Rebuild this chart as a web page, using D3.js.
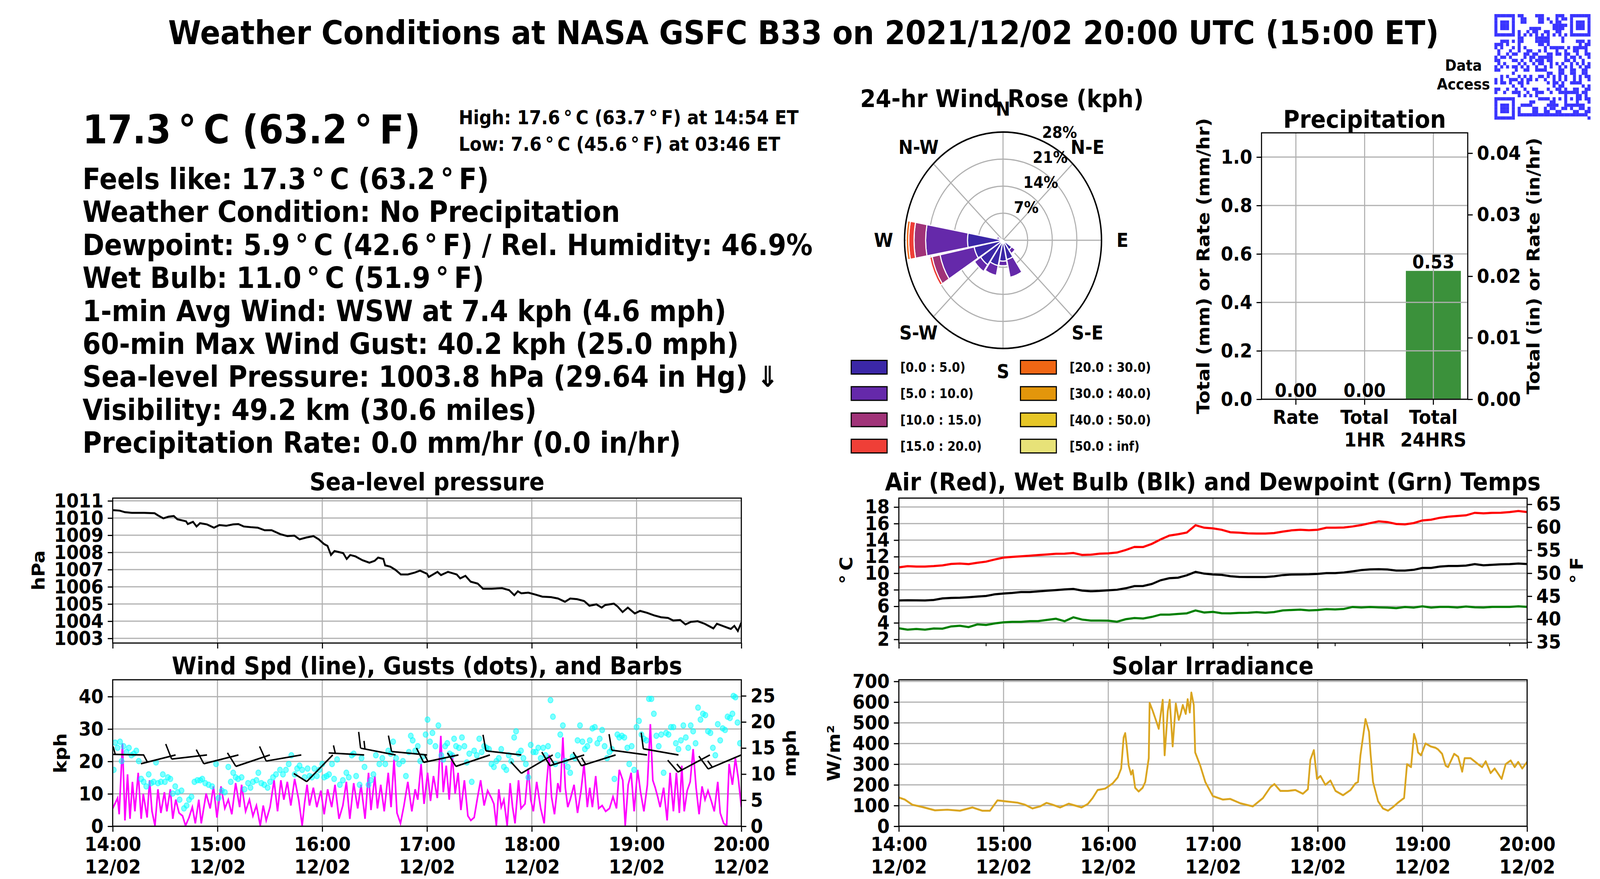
<!DOCTYPE html>
<html>
<head>
<meta charset="utf-8">
<title>Weather Conditions at NASA GSFC B33</title>
<script src="https://cdn.jsdelivr.net/npm/d3@7"></script>
<style>html,body{margin:0;padding:0;background:#fff;overflow:hidden}svg{display:block}</style>
</head>
<body>
<script>
// ---------------- data ----------------
const DEG = "\u2009°\u2009";
const titleText = "Weather Conditions at NASA GSFC B33 on 2021/12/02 20:00 UTC (15:00 ET)";
const bigTemp = `17.3${DEG}C (63.2${DEG}F)`;
const highLow = [`High: 17.6${DEG}C (63.7${DEG}F) at 14:54 ET`, `Low: 7.6${DEG}C (45.6${DEG}F) at 03:46 ET`];
const infoLines = [
  `Feels like: 17.3${DEG}C (63.2${DEG}F)`,
  "Weather Condition: No Precipitation",
  `Dewpoint: 5.9${DEG}C (42.6${DEG}F) / Rel. Humidity: 46.9%`,
  `Wet Bulb: 11.0${DEG}C (51.9${DEG}F)`,
  "1-min Avg Wind: WSW at 7.4 kph (4.6 mph)",
  "60-min Max Wind Gust: 40.2 kph (25.0 mph)",
  "Sea-level Pressure: 1003.8 hPa (29.64 in Hg) \u21D3",
  "Visibility: 49.2 km (30.6 miles)",
  "Precipitation Rate: 0.0 mm/hr (0.0 in/hr)"
];

// time axis (minutes after 14:00 ET)
const timeTicks = [0, 60, 120, 180, 240, 300, 360];
const timeTickLabels = ["14:00", "15:00", "16:00", "17:00", "18:00", "19:00", "20:00"];
const dateTickLabel = "12/02";
const tempMinorTicks = [50, 100, 150, 200, 250, 300, 350];

// sea-level pressure [minute, hPa]
const pressure = [[0,1010.46],[4,1010.43],[7,1010.34],[11,1010.30],[18,1010.30],[24,1010.28],[26,1010.15],[29,1009.98],[32,1010.08],[35,1010.12],[37,1009.93],[42,1009.81],[43,1009.65],[46,1009.78],[48,1009.51],[50,1009.70],[54,1009.63],[58,1009.44],[61,1009.59],[65,1009.55],[69,1009.63],[72,1009.65],[75,1009.51],[79,1009.47],[83,1009.44],[87,1009.29],[91,1009.29],[96,1009.06],[100,1008.95],[104,1008.98],[107,1008.76],[111,1008.87],[115,1008.95],[118,1008.76],[121,1008.49],[123,1008.38],[125,1007.85],[127,1008.08],[132,1007.96],[134,1007.62],[136,1007.85],[139,1007.77],[143,1007.55],[147,1007.40],[150,1007.51],[152,1007.70],[155,1007.62],[156,1007.25],[159,1007.17],[162,1006.98],[165,1006.72],[169,1006.72],[173,1006.83],[176,1006.94],[180,1006.76],[181,1006.57],[186,1006.87],[188,1006.68],[192,1006.87],[197,1006.72],[199,1006.49],[202,1006.64],[205,1006.30],[209,1006.19],[212,1005.89],[217,1005.89],[223,1005.92],[227,1005.81],[230,1005.51],[232,1005.74],[234,1005.62],[238,1005.66],[242,1005.55],[246,1005.43],[251,1005.40],[255,1005.32],[259,1005.13],[262,1005.32],[266,1005.28],[270,1005.17],[273,1004.90],[277,1004.98],[280,1004.79],[282,1004.94],[287,1005.02],[289,1004.87],[292,1004.53],[295,1004.79],[299,1004.45],[302,1004.60],[306,1004.49],[310,1004.34],[314,1004.23],[318,1004.19],[321,1004.04],[325,1004.07],[328,1003.81],[331,1003.96],[335,1004.00],[339,1003.85],[344,1003.58],[346,1003.85],[350,1003.70],[354,1003.55],[356,1003.73],[358,1003.43],[360,1003.92]];
const pressureTicks = [1003,1004,1005,1006,1007,1008,1009,1010,1011];

// temperatures (deg C) every 5 minutes
const tempMin = [0,5,10,15,20,25,30,35,40,45,50,55,60,65,70,75,80,85,90,95,100,105,110,115,120,125,130,135,140,145,150,155,160,165,170,175,180,185,190,195,200,205,210,215,220,225,230,235,240,245,250,255,260,265,270,275,280,285,290,295,300,305,310,315,320,325,330,335,340,345,350,355,360];
const airTemp = [10.71,10.85,10.80,10.80,10.86,10.95,11.12,11.17,11.10,11.26,11.40,11.66,11.89,11.97,12.04,12.11,12.20,12.27,12.35,12.36,12.44,12.21,12.24,12.36,12.40,12.50,12.80,13.18,13.17,13.55,14.09,14.55,14.71,14.92,15.80,15.50,15.42,15.25,14.95,14.90,14.82,14.80,14.80,14.85,15.03,15.18,15.26,15.20,15.26,15.50,15.50,15.53,15.65,15.82,16.05,16.27,16.18,15.95,15.90,16.06,16.38,16.47,16.70,16.84,16.92,17.00,17.30,17.24,17.30,17.31,17.39,17.52,17.39];
const wetBulb = [6.71,6.73,6.72,6.71,6.77,6.95,7.02,7.04,7.10,7.18,7.25,7.45,7.55,7.62,7.72,7.72,7.81,7.89,7.96,8.04,8.10,7.90,7.82,7.86,7.93,8.00,8.18,8.44,8.46,8.70,9.15,9.40,9.46,9.75,10.16,9.95,9.85,9.80,9.64,9.55,9.54,9.54,9.54,9.62,9.77,9.84,9.85,9.87,9.92,10.01,10.01,10.09,10.23,10.38,10.46,10.48,10.45,10.32,10.32,10.41,10.64,10.64,10.80,10.87,10.87,10.92,11.10,10.96,11.02,11.07,11.10,11.17,11.11];
const dewPoint = [3.34,3.18,3.26,3.18,3.32,3.30,3.57,3.65,3.49,3.81,3.74,3.93,4.06,4.12,4.12,4.20,4.22,4.36,4.50,4.20,4.67,4.40,4.28,4.28,4.26,4.14,4.44,4.58,4.52,4.72,5.00,5.00,5.08,5.15,5.50,5.25,5.33,5.16,5.15,5.21,5.22,5.29,5.22,5.30,5.50,5.55,5.60,5.50,5.55,5.66,5.62,5.68,5.92,5.86,5.92,5.87,5.84,5.78,5.92,5.85,6.00,5.85,5.93,5.93,5.86,5.98,5.88,5.86,5.93,5.93,5.93,6.00,5.93];
const tempTicksC = [2,4,6,8,10,12,14,16,18];
const tempTicksF = [35,40,45,50,55,60,65];

// 1-min wind speed [minute, kph]
const windSpd = [[0,5.5],[2.8,8.7],[3.7,3.7],[5.6,25.6],[7.0,1.8],[8.5,16.0],[9.9,2.3],[11.3,13.7],[12.7,4.6],[14.6,16.5],[16.3,2.3],[17.5,10.0],[19.7,2.7],[21.1,14.2],[22.5,4.6],[24.2,0.2],[25.9,11.4],[27.6,4.1],[29.6,10.5],[31.0,4.6],[33.0,11.4],[34.4,2.3],[36.1,8.2],[38.0,4.1],[40.0,3.2],[41.7,0.2],[43.7,2.7],[45.6,5.9],[47.3,0.9],[49.3,8.2],[50.7,0.9],[53.5,10.1],[55.8,5.5],[57.7,12.3],[59.7,2.7],[62.0,12.3],[64.2,5.5],[66.2,8.2],[68.2,3.7],[70.4,13.3],[72.7,5.9],[73.8,12.8],[76.1,4.6],[78.3,8.2],[80.3,3.2],[82.3,6.4],[84.5,0.2],[86.2,6.4],[87.9,1.8],[90.1,5.9],[92.4,14.2],[94.4,4.6],[96.3,14.2],[98.0,8.2],[100.0,13.7],[102.0,6.4],[104.2,14.6],[106.5,8.2],[108.5,0.2],[109.9,7.3],[111.3,12.8],[112.7,6.4],[114.9,11.9],[116.9,5.9],[119.2,11.0],[121.1,3.7],[123.1,11.4],[125.4,5.9],[127.3,12.8],[129.6,2.3],[131.8,6.4],[133.8,13.7],[135.8,2.3],[138.0,13.3],[140.3,5.5],[142.2,12.8],[144.5,2.3],[146.5,16.5],[147.9,5.0],[150.1,15.5],[151.6,5.5],[153.5,12.8],[155.5,4.6],[157.8,16.5],[159.4,5.9],[161.1,20.6],[162.8,4.1],[164.8,0.9],[166.8,6.4],[169.0,13.7],[171.3,4.6],[173.2,11.4],[174.7,8.2],[176.6,19.2],[178.3,6.9],[180.3,16.5],[182.0,7.8],[183.7,15.5],[185.9,8.7],[187.9,27.9],[189.3,10.5],[191.0,18.7],[192.7,8.2],[194.4,22.4],[196.1,10.1],[197.8,16.5],[199.4,5.0],[201.4,14.2],[203.4,3.2],[205.1,1.8],[207.0,2.7],[209.0,9.1],[210.7,14.2],[212.7,6.4],[214.7,11.0],[216.9,8.7],[218.3,6.9],[219.7,0.2],[221.1,11.4],[222.5,5.9],[224.0,8.2],[225.9,0.2],[227.6,13.3],[229.0,5.9],[230.4,0.9],[232.4,14.2],[233.8,5.5],[236.1,6.9],[238.0,17.8],[239.4,8.2],[240.9,4.6],[242.8,13.7],[245.1,5.5],[247.1,0.9],[248.5,13.3],[249.9,22.0],[251.3,9.1],[253.0,3.7],[254.9,13.3],[256.3,10.5],[257.8,27.4],[259.2,11.9],[260.6,5.9],[262.0,8.2],[264.2,12.8],[266.2,4.1],[268.2,11.0],[269.9,19.2],[271.8,5.9],[273.2,11.9],[274.7,5.9],[276.6,15.5],[278.3,5.5],[280.3,6.4],[282.3,4.6],[284.5,5.5],[286.5,9.1],[288.5,5.5],[290.1,17.4],[292.1,14.2],[293.5,0.2],[295.2,12.8],[296.9,16.5],[298.6,4.6],[300.6,17.4],[302.3,10.5],[304.2,4.6],[306.2,12.8],[307.9,31.5],[309.3,14.2],[310.7,11.9],[312.1,9.1],[313.5,5.9],[315.5,11.9],[317.5,1.8],[319.2,16.5],[321.1,4.6],[322.8,16.5],[324.5,4.1],[325.9,18.7],[327.3,4.6],[329.0,11.0],[330.7,13.7],[332.4,23.8],[334.1,11.9],[335.8,3.7],[337.5,12.3],[339.2,8.2],[340.9,11.0],[342.8,7.8],[344.5,4.6],[346.5,13.7],[347.9,4.1],[349.9,0.9],[351.6,0.2],[353.0,19.2],[354.9,12.8],[356.6,21.0],[358.3,14.6],[360,5.9]];
// wind gusts [minute, kph]
const windGust = [[0.6,17.4],[1.4,25.8],[2.8,24.2],[4.2,26.1],[5.1,20.1],[6.2,24.7],[7.9,22.9],[9.3,24.2],[10.7,21.9],[12.1,22.4],[13.5,23.3],[14.9,20.1],[16.3,14.6],[17.7,13.7],[19.2,12.3],[20.6,16.0],[22.0,13.3],[23.4,13.7],[24.8,19.7],[25.9,13.3],[27.6,13.7],[28.7,16.0],[29.9,13.7],[31.6,15.1],[33.0,14.6],[34.4,10.1],[35.8,12.3],[37.2,10.5],[38.3,8.2],[39.4,11.0],[40.8,5.5],[42.3,6.4],[43.7,8.2],[45.1,9.1],[46.8,13.7],[48.5,14.2],[50.1,14.2],[51.3,14.6],[53.0,13.3],[54.9,12.8],[56.9,12.3],[59.2,19.2],[60.6,8.7],[62.5,11.0],[64.2,10.5],[66.2,18.3],[67.6,13.7],[69.0,16.5],[70.4,15.1],[71.8,14.6],[73.8,15.1],[75.5,11.4],[77.5,13.3],[78.9,11.9],[80.3,13.7],[82.3,14.2],[83.4,16.5],[85.1,13.3],[86.8,12.8],[88.7,11.9],[90.1,13.7],[91.8,15.1],[93.5,16.0],[95.8,17.4],[97.5,16.0],[99.2,17.4],[100.8,19.2],[102.3,21.9],[104.2,16.0],[105.6,17.8],[107.0,18.7],[108.5,17.4],[109.9,15.1],[111.6,17.8],[112.7,15.5],[114.1,15.1],[115.5,17.8],[116.9,15.5],[118.3,17.4],[120.0,19.2],[121.1,15.1],[122.5,15.5],[123.9,16.0],[125.6,19.2],[126.8,14.6],[128.5,20.6],[130.1,12.8],[131.8,14.2],[133.8,16.5],[135.2,15.1],[136.9,21.9],[138.0,22.4],[139.4,15.5],[141.4,12.8],[142.5,21.0],[144.2,18.3],[146.5,12.8],[147.9,14.2],[149.3,16.0],[150.7,21.9],[152.7,19.2],[154.4,21.0],[156.1,19.2],[157.8,23.3],[159.2,22.4],[160.6,26.1],[162.3,21.0],[164.0,19.2],[166.2,20.1],[167.9,15.5],[169.6,22.9],[170.7,27.9],[171.8,26.5],[173.2,23.3],[174.7,24.7],[176.1,20.1],[177.5,21.5],[179.2,28.3],[180.3,32.9],[181.7,26.1],[183.1,28.8],[184.8,24.7],[186.5,31.1],[188.2,21.9],[189.3,20.6],[190.4,24.7],[191.6,25.6],[193.0,22.4],[194.4,21.9],[195.5,27.0],[196.6,24.7],[198.3,24.2],[200.0,27.4],[201.4,24.7],[202.8,19.7],[204.2,22.4],[205.6,13.7],[207.0,23.3],[208.5,21.9],[209.9,27.0],[211.3,22.9],[212.7,24.7],[214.1,24.2],[215.5,23.8],[216.9,19.2],[218.3,18.3],[219.7,20.1],[221.1,21.0],[222.5,23.8],[224.0,18.3],[225.4,17.4],[226.8,21.9],[228.2,20.1],[229.9,27.4],[231.0,29.3],[232.4,22.4],[233.8,23.3],[235.2,21.0],[236.6,19.2],[238.0,15.1],[239.4,25.1],[240.9,22.9],[242.3,22.9],[243.7,24.2],[245.1,21.0],[246.5,24.2],[247.9,21.9],[249.3,24.7],[250.7,38.9],[252.1,33.8],[253.5,19.2],[254.9,21.9],[256.3,28.3],[257.8,31.1],[259.2,20.1],[260.6,18.3],[262.0,16.5],[263.4,21.5],[264.8,21.0],[266.2,26.5],[267.6,31.1],[269.0,26.1],[270.4,23.8],[271.8,24.7],[273.2,26.5],[274.7,30.2],[276.1,30.6],[277.5,25.6],[278.9,27.0],[280.3,29.7],[281.7,24.7],[283.1,21.0],[284.5,22.9],[285.9,23.8],[287.3,14.6],[289.0,28.3],[290.1,27.4],[291.6,27.9],[293.0,27.4],[294.7,24.2],[295.8,19.2],[297.2,24.7],[298.6,17.4],[300.0,30.6],[301.4,32.5],[302.8,28.3],[304.2,27.0],[305.6,26.5],[307.1,39.3],[308.5,39.3],[309.9,34.7],[311.3,27.9],[312.7,24.7],[314.1,28.3],[315.5,16.5],[316.9,28.8],[318.3,28.3],[319.7,30.6],[321.1,30.6],[322.5,25.6],[324.0,23.8],[325.4,26.5],[326.8,31.1],[328.2,27.4],[329.6,24.2],[331.0,31.1],[332.4,29.3],[333.8,25.6],[335.2,36.6],[336.6,32.9],[338.0,34.7],[339.4,34.3],[340.9,29.3],[342.3,28.8],[343.7,24.2],[345.1,21.9],[346.5,31.5],[347.9,26.5],[349.3,30.2],[350.7,29.7],[352.1,33.8],[353.5,33.4],[354.9,34.7],[355.5,40.2],[356.6,39.8],[357.8,32.0],[359.2,25.6]];
const windTicksKph = [0,10,20,30,40];
const windTicksMph = [0,5,10,15,20,25];
// wind barbs: time, direction wind comes from (deg), speed (kph), drawn at 22 kph level
const barbMin = [18,36,54,72,90,108,126,144,162,180,198,216,234,252,270,288,306,324,342,360];
const barbDir = [271,257,264,257,253,261,227,273,280,275,259,253,276,242,254,254,277,279,244,249];
const barbSpd = [7,7,12,12,12,12,12,7,17,12,17,12,12,12,17,17,12,12,17,17];
const barbLevel = 22;

// solar irradiance
const solarMin = [0,3.4,7.7,13.5,20.7,27.8,35.0,42.2,47.9,52.2,56.5,60.8,68.0,72.3,76.6,80.9,84.6,88.1,92.4,97.3,101.0,104.7,108.2,111.0,113.9,118.2,122.5,125.4,127.4,128.8,129.7,130.5,131.7,133.1,134.0,135.4,137.4,139.7,141.2,143.2,143.7,145.5,147.8,148.9,151.2,152.3,154.1,155.2,156.9,158.7,160.4,161.5,162.7,164.4,165.5,166.7,167.6,169.0,169.8,172.7,175.6,179.9,185.6,189.9,195.7,202.8,208.6,212.9,215.2,218.6,222.9,227.2,231.5,234.4,235.8,237.8,239.6,241.6,244.4,247.3,250.2,254.5,258.8,261.6,263.1,264.5,267.4,269.4,270.3,271.7,274.6,277.4,280.3,283.2,286.0,288.3,289.5,291.2,293.5,295.2,296.4,297.5,299.2,301.8,304.7,307.6,309.0,311.3,313.3,314.7,318.2,320.5,322.8,324.2,327.6,331.9,334.2,336.3,339.1,341.4,345.4,347.7,350.6,352.9,354.9,357.2,360];
const solarW = [139,129,104,93,77,80,75,91,75,75,125,121,114,104,86,96,113,104,91,109,100,91,107,136,175,182,207,236,279,429,450,393,293,250,271,186,168,186,214,329,596,557,500,471,611,343,557,611,386,593,514,543,586,543,614,550,646,586,357,293,214,146,129,132,111,96,136,189,204,171,171,175,157,179,321,368,229,243,200,221,171,150,175,207,214,343,518,457,350,214,121,86,75,93,114,129,136,300,286,446,414,357,343,400,386,379,371,350,293,286,350,336,264,329,329,300,286,314,257,279,229,300,318,286,311,279,311];
const solarTicks = [0,100,200,300,400,500,600,700];

// precipitation
const precipCats = ["Rate", "Total\n1HR", "Total\n24HRS"];
const precipMm = [0.00, 0.00, 0.53];
const precipTicksMm = [0, 0.2, 0.4, 0.6, 0.8, 1.0];
const precipTicksIn = [0, 0.01, 0.02, 0.03, 0.04];

// wind rose: 16 sectors, percent of time per speed bin (kph)
const roseDirs = ["N","NNE","NE","ENE","E","ESE","SE","SSE","S","SSW","SW","WSW","W","WNW","NW","NNW"];
const roseBins = ["[0.0 : 5.0)","[5.0 : 10.0)","[10.0 : 15.0)","[15.0 : 20.0)","[20.0 : 30.0)","[30.0 : 40.0)","[40.0 : 50.0)","[50.0 : inf)"];
const roseColors = ["#3b27a7","#6529aa","#a03378","#ef3f37","#f06614","#e3960b","#e6c627","#e7e278"];
const rose0to5   = [0,0,0,0,0,0,3.0,5.1,5.4,6.7,7.7,8.4,10.1,1.2,0,0];
const rose5to10  = [0,0,0,0,0,0,1.2,4.7,1.2,2.6,2.1,9.9,11.9,0.6,0,0];
const rose10to15 = [0,0,0,0,0,0,0.3,0.3,0,0,0,2.3,3.3,0,0,0];
const rose15to20 = [0,0,0,0,0,0,0,0,0,0,0,0.7,1.5,0,0,0];
const rose20to30 = [0,0,0,0,0,0,0,0,0,0,0,0,0.7,0,0,0];
const rose30to40 = [0,0,0,0,0,0,0,0,0,0,0,0,0,0,0,0];
const rose40to50 = [0,0,0,0,0,0,0,0,0,0,0,0,0,0,0,0];
const rose50up   = [0,0,0,0,0,0,0,0,0,0,0,0,0,0,0,0];
const roseCompass = ["N","N-E","E","S-E","S","S-W","W","N-W"];
const roseRadTicks = [7,14,21,28];

// ---------------- drawing ----------------
// the chart is laid out on a 4500x2250 grid and stretched to whatever the window gives
const FONT = "'DejaVu Sans', sans-serif";
const GRID = "#b0b0b0";
const vw = window.innerWidth || 4500, vh = window.innerHeight || 2250;
const svg = d3.select("body").append("svg")
  .attr("width", vw).attr("height", vh)
  .attr("viewBox", "0 0 4500 2250").attr("preserveAspectRatio", "none")
  .attr("font-family", FONT).attr("font-weight", "bold");
svg.append("rect").attr("width", 4500).attr("height", 2250).attr("fill", "#fff");

function txt(g, x, y, s, size, anchor) {
  return g.append("text").attr("x", x).attr("y", y).attr("font-size", size)
    .attr("text-anchor", anchor || "start").attr("fill", "#000").text(s);
}
function ylab(x, y, s) {
  svg.append("text").attr("transform", `translate(${x},${y}) rotate(-90)`)
    .attr("text-anchor", "middle").attr("font-size", 49).text(s);
}
function styleAxis(a) {
  a.attr("font-family", FONT).attr("font-size", 50).attr("font-weight", "bold");
  a.select("path.domain").remove();
  a.selectAll(".tick line").attr("stroke", "#000").attr("stroke-width", 3);
  a.selectAll(".tick text").attr("fill", "#000");
}

// title
txt(svg, 2260, 113, titleText, 84, "middle");

// QR code style block (decorative)
(function qr() {
  const n = 33, size = 270, x0 = 4203, y0 = 36, m = size / n;
  const g = svg.append("g").attr("fill", "#3a35ff");
  function finder(r, c, R, C) {
    const dr = r - R, dc = c - C;
    if (dr < -1 || dr > 7 || dc < -1 || dc > 7) return null;
    if (dr === -1 || dr === 7 || dc === -1 || dc === 7) return false;
    if (dr === 0 || dr === 6 || dc === 0 || dc === 6) return true;
    if (dr === 1 || dr === 5 || dc === 1 || dc === 5) return false;
    return true;
  }
  for (let r = 0; r < n; r++) for (let c = 0; c < n; c++) {
    let on = finder(r, c, 0, 0);
    if (on === null) on = finder(r, c, 0, n - 7);
    if (on === null) on = finder(r, c, n - 7, 0);
    if (on === null) {
      const ar = r - 26, ac = c - 26;
      if (Math.abs(ar) <= 2 && Math.abs(ac) <= 2) on = Math.max(Math.abs(ar), Math.abs(ac)) !== 1;
      else if (r === 6) on = c % 2 === 0;
      else if (c === 6) on = r % 2 === 0;
      else on = ((r * r * 3 + c * 7 + r * c * 5 + (r ^ c)) % 7) < 3;
    }
    if (on) g.append("rect").attr("x", x0 + c * m).attr("y", y0 + r * m).attr("width", m + 0.3).attr("height", m + 0.3);
  }
})();
txt(svg, 4116, 181, "Data", 39, "middle");
txt(svg, 4116, 229, "Access", 39, "middle");

// current conditions text
txt(svg, 232, 367, bigTemp, 101);
txt(svg, 1290, 318, highLow[0], 49);
txt(svg, 1290, 386, highLow[1], 49);
infoLines.forEach((s, i) => txt(svg, 232, 484 + i * 84.4, s, 74));

// ---------- time series panels ----------
let clipN = 0;
function timePanel(box, yDom, yTicks, fmt, xLabels) {
  const g = svg.append("g");
  const x = d3.scaleLinear([0, 360], [box.l, box.r]);
  const y = d3.scaleLinear(yDom, [box.b, box.t]);
  const id = "clip" + (clipN++);
  svg.append("clipPath").attr("id", id).append("rect")
    .attr("x", box.l).attr("y", box.t).attr("width", box.r - box.l).attr("height", box.b - box.t);
  g.append("g").selectAll("line").data(timeTicks).join("line")
    .attr("x1", d => x(d)).attr("x2", d => x(d)).attr("y1", box.t).attr("y2", box.b)
    .attr("stroke", GRID).attr("stroke-width", 3);
  g.append("g").selectAll("line").data(yTicks).join("line")
    .attr("x1", box.l).attr("x2", box.r).attr("y1", d => y(d)).attr("y2", d => y(d))
    .attr("stroke", GRID).attr("stroke-width", 3);
  const plot = g.append("g").attr("clip-path", `url(#${id})`);
  const ya = g.append("g").attr("transform", `translate(${box.l},0)`)
    .call(d3.axisLeft(y).tickValues(yTicks).tickSize(14).tickPadding(12).tickFormat(fmt));
  styleAxis(ya);
  const xa = g.append("g").attr("transform", `translate(0,${box.b})`)
    .call(d3.axisBottom(x).tickValues(timeTicks).tickSize(14).tickPadding(14).tickFormat(() => ""));
  styleAxis(xa);
  if (xLabels) {
    xa.selectAll(".tick text").each(function (d, i) {
      const t = d3.select(this).attr("dy", null).text(null);
      t.append("tspan").attr("x", 0).attr("dy", "0.71em").text(timeTickLabels[i]);
      t.append("tspan").attr("x", 0).attr("dy", "1.16em").text(dateTickLabel);
    });
  }
  const frame = () => g.append("rect").attr("x", box.l).attr("y", box.t)
    .attr("width", box.r - box.l).attr("height", box.b - box.t)
    .attr("fill", "none").attr("stroke", "#000").attr("stroke-width", 3);
  return { g, plot, x, y, box, frame };
}

// Sea-level pressure
const pP = timePanel({ l: 317, r: 2085, t: 1275, b: 1646 }, [1002.73, 1011.16], pressureTicks, d3.format("d"), false);
pP.plot.append("path").datum(pressure)
  .attr("d", d3.line().x(d => pP.x(d[0])).y(d => pP.y(d[1])))
  .attr("fill", "none").attr("stroke", "#000").attr("stroke-width", 5);
pP.frame();
txt(svg, 1201, 1255, "Sea-level pressure", 63, "middle");
ylab(125, 1460, "hPa");

// Wind
const pW = timePanel({ l: 317, r: 2085, t: 1740, b: 2115 }, [0, 45.2], windTicksKph, d3.format("d"), true);
pW.plot.append("path").datum(windSpd)
  .attr("d", d3.line().x(d => pW.x(d[0])).y(d => pW.y(d[1])))
  .attr("fill", "none").attr("stroke", "#ff00ff").attr("stroke-width", 4.5);
pW.plot.append("g").selectAll("circle").data(windGust).join("circle")
  .attr("cx", d => pW.x(d[0])).attr("cy", d => pW.y(d[1])).attr("r", 7)
  .attr("fill", "#00ffff").attr("fill-opacity", 0.5)
  .attr("stroke", "#00ffff").attr("stroke-opacity", 0.55).attr("stroke-width", 2.5);
(function barbs() {
  const L = 100, Hh = 40, Ww = 25, sp = 12.5;
  const g = pW.plot.append("g").attr("fill", "none").attr("stroke", "#000").attr("stroke-width", 4);
  barbMin.forEach((t, i) => {
    const px = pW.x(t), py = pW.y(barbLevel);
    const a = barbDir[i] * Math.PI / 180;
    const s = [Math.sin(a), Math.cos(a)], p = [s[1], -s[0]];
    const P = (al, pe) => [px + s[0] * al + p[0] * pe, py - (s[1] * al + p[1] * pe)];
    const r5 = Math.round(barbSpd[i] / 5) * 5;
    const nFull = Math.floor(r5 / 10), half = r5 % 10 >= 5;
    let d = `M${P(0, 0)}L${P(L, 0)}`;
    let off = L;
    for (let k = 0; k < nFull; k++) { d += `M${P(off, 0)}L${P(off + Ww / 2, Hh)}`; off -= sp; }
    if (half) {
      if (off === L) off -= 1.5 * sp;
      d += `M${P(off, 0)}L${P(off + Ww / 4, Hh / 2)}`;
    }
    g.append("path").attr("d", d);
  });
})();
const yW2 = d3.scaleLinear([0, 45.2 / 1.60934], [2115, 1740]);
const wa2 = pW.g.append("g").attr("transform", "translate(2085,0)")
  .call(d3.axisRight(yW2).tickValues(windTicksMph).tickSize(14).tickPadding(12).tickFormat(d3.format("d")));
styleAxis(wa2);
pW.frame();
txt(svg, 1201, 1726, "Wind Spd (line), Gusts (dots), and Barbs", 63, "middle");
ylab(187, 1928, "kph");
ylab(2238, 1928, "mph");

// Temperatures
const pT = timePanel({ l: 2528, r: 4295, t: 1275, b: 1646 }, [1.56, 19.08], tempTicksC, d3.format("d"), false);
const tLine = d3.line().x((d, i) => pT.x(tempMin[i])).y(d => pT.y(d));
[[airTemp, "#ff0000"], [wetBulb, "#000000"], [dewPoint, "#008000"]].forEach(([arr, c]) => {
  pT.plot.append("path").datum(arr).attr("d", tLine)
    .attr("fill", "none").attr("stroke", c).attr("stroke-width", 5.5);
});
pT.g.append("g").attr("transform", "translate(0,1646)").selectAll("line").data(tempMinorTicks).join("line")
  .attr("x1", d => pT.x(d)).attr("x2", d => pT.x(d)).attr("y1", 0).attr("y2", 8)
  .attr("stroke", "#000").attr("stroke-width", 2.5);
const c2f = c => c * 9 / 5 + 32;
const yT2 = d3.scaleLinear([c2f(1.56), c2f(19.08)], [1646, 1275]);
const ta2 = pT.g.append("g").attr("transform", "translate(4295,0)")
  .call(d3.axisRight(yT2).tickValues(tempTicksF).tickSize(14).tickPadding(12).tickFormat(d3.format("d")));
styleAxis(ta2);
pT.frame();
txt(svg, 3411, 1255, "Air (Red), Wet Bulb (Blk) and Dewpoint (Grn) Temps", 63, "middle");
ylab(2397, 1460, "°\u2009C");
ylab(4452, 1460, "°\u2009F");

// Solar
const pS = timePanel({ l: 2528, r: 4295, t: 1740, b: 2115 }, [0, 708], solarTicks, d3.format("d"), true);
pS.plot.append("path").datum(solarW)
  .attr("d", d3.line().x((d, i) => pS.x(solarMin[i])).y(d => pS.y(d)))
  .attr("fill", "none").attr("stroke", "#daa520").attr("stroke-width", 5).attr("stroke-linejoin", "round");
pS.frame();
txt(svg, 3411, 1726, "Solar Irradiance", 63, "middle");
ylab(2362, 1928, "W/m²");

// ---------- precipitation ----------
(function precip() {
  const b = { l: 3548, r: 4128, t: 340, b: 1022 };
  const g = svg.append("g");
  const x = d3.scaleBand().domain(precipCats).range([b.l, b.r]).paddingInner(0.2).paddingOuter(0.1);
  const y = d3.scaleLinear([0, 1.1], [b.b, b.t]);
  const y2 = d3.scaleLinear([0, 1.1 / 25.4], [b.b, b.t]);
  g.append("g").selectAll("rect").data(precipMm).join("rect")
    .attr("x", (d, i) => x(precipCats[i])).attr("width", x.bandwidth())
    .attr("y", d => y(d)).attr("height", d => y(0) - y(d)).attr("fill", "#3b913b");
  // grid drawn over bars as in reference
  g.append("g").selectAll("line").data(precipCats).join("line")
    .attr("x1", d => x(d) + x.bandwidth() / 2).attr("x2", d => x(d) + x.bandwidth() / 2)
    .attr("y1", b.t).attr("y2", b.b).attr("stroke", GRID).attr("stroke-width", 3);
  g.append("g").selectAll("line").data(precipTicksMm).join("line")
    .attr("x1", b.l).attr("x2", b.r).attr("y1", d => y(d)).attr("y2", d => y(d))
    .attr("stroke", GRID).attr("stroke-width", 3);
  g.append("g").selectAll("text").data(precipMm).join("text")
    .attr("x", (d, i) => x(precipCats[i]) + x.bandwidth() / 2).attr("y", d => y(d) - 6)
    .attr("text-anchor", "middle").attr("font-size", 48).text(d => d3.format(".2f")(d));
  const ya = g.append("g").attr("transform", `translate(${b.l},0)`)
    .call(d3.axisLeft(y).tickValues(precipTicksMm).tickSize(14).tickPadding(12).tickFormat(d3.format(".1f")));
  styleAxis(ya);
  const ya2 = g.append("g").attr("transform", `translate(${b.r},0)`)
    .call(d3.axisRight(y2).tickValues(precipTicksIn).tickSize(14).tickPadding(12).tickFormat(d3.format(".2f")));
  styleAxis(ya2);
  const xa = g.append("g").attr("transform", `translate(0,${b.b})`)
    .call(d3.axisBottom(x).tickSize(14).tickPadding(14));
  styleAxis(xa);
  xa.selectAll(".tick text").each(function (d) {
    const t = d3.select(this).attr("dy", null).text(null);
    d.split("\n").forEach((s, k) => t.append("tspan").attr("x", 0).attr("dy", k === 0 ? "0.71em" : "1.16em").text(s));
  });
  g.append("rect").attr("x", b.l).attr("y", b.t).attr("width", b.r - b.l).attr("height", b.b - b.t)
    .attr("fill", "none").attr("stroke", "#000").attr("stroke-width", 3);
  txt(svg, (b.l + b.r) / 2, 327, "Precipitation", 63, "middle");
  ylab(3401, (b.t + b.b) / 2, "Total (mm) or Rate (mm/hr)");
  ylab(4330, (b.t + b.b) / 2, "Total (in) or Rate (in/hr)");
})();

// ---------- wind rose ----------
(function windRose() {
  const cx = 2821, cy = 615, R = 277;
  const r = d3.scaleLinear([0, 28], [0, R]);
  const g = svg.append("g").attr("transform", `translate(${cx},${cy})`);
  g.selectAll("circle.grid").data(roseRadTicks.slice(0, 3)).join("circle")
    .attr("r", d => r(d)).attr("fill", "none").attr("stroke", GRID).attr("stroke-width", 3);
  g.selectAll("line.grid").data(roseCompass).join("line")
    .attr("x1", 0).attr("y1", 0)
    .attr("x2", (d, i) => R * Math.sin(i * Math.PI / 4)).attr("y2", (d, i) => -R * Math.cos(i * Math.PI / 4))
    .attr("stroke", GRID).attr("stroke-width", 3);
  const binArrays = [rose0to5, rose5to10, rose10to15, rose15to20, rose20to30, rose30to40, rose40to50, rose50up];
  const rows = roseDirs.map((dname, i) => {
    const o = { dir: dname, ang: i * 22.5 };
    roseBins.forEach((bn, k) => o[bn] = binArrays[k][i]);
    return o;
  });
  const stacked = d3.stack().keys(roseBins)(rows);
  const arc = d3.arc();
  stacked.forEach((series, k) => {
    series.forEach(d => {
      if (d[1] - d[0] <= 0) return;
      const a = d.data.ang * Math.PI / 180, hw = 10.6 * Math.PI / 180;
      g.append("path")
        .attr("d", arc({ innerRadius: r(d[0]), outerRadius: r(d[1]), startAngle: a - hw, endAngle: a + hw }))
        .attr("fill", roseColors[k]).attr("stroke", "#fff").attr("stroke-width", 3);
    });
  });
  g.append("circle").attr("r", R).attr("fill", "none").attr("stroke", "#000").attr("stroke-width", 4);
  roseCompass.forEach((s, i) => {
    const a = i * Math.PI / 4, rr = 336;
    g.append("text").attr("x", rr * Math.sin(a)).attr("y", -rr * Math.cos(a))
      .attr("text-anchor", "middle").attr("dominant-baseline", "central")
      .attr("font-size", 49).text(s);
  });
  const la = 22.5 * Math.PI / 180;
  roseRadTicks.forEach(v => {
    g.append("text").attr("x", r(v) * Math.sin(la) + 4).attr("y", -r(v) * Math.cos(la) - 6)
      .attr("font-size", 41).text(v + "%");
  });
  txt(svg, 2818, 274, "24-hr Wind Rose (kph)", 63, "middle");
  // legend
  const lg = svg.append("g");
  roseBins.forEach((bn, k) => {
    const col = Math.floor(k / 4), row = k % 4;
    const x0 = col === 0 ? 2394 : 2870, yc = 940 + row * 67.3;
    lg.append("rect").attr("x", x0).attr("y", yc - 17.5).attr("width", 101).attr("height", 35)
      .attr("fill", roseColors[k]).attr("stroke", "#000").attr("stroke-width", 3);
    txt(lg, x0 + 138, yc + 12, bn, 33);
  });
})();
</script>
</body>
</html>
